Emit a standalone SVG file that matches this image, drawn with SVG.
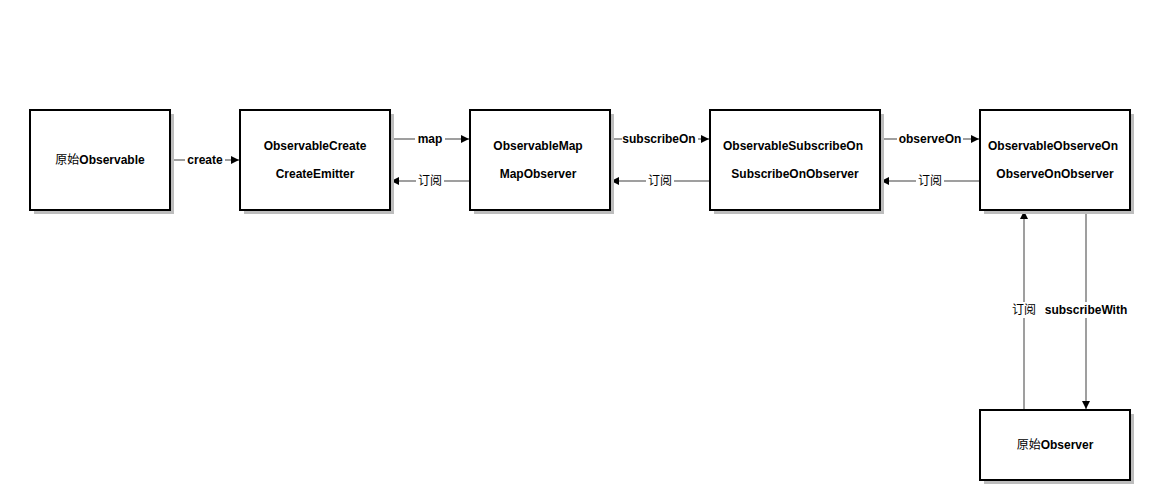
<svg xmlns="http://www.w3.org/2000/svg" width="1150" height="500" viewBox="0 0 1150 500">
<style>
.box{fill:#fff;stroke:#000;stroke-width:2}
.sh{fill:#bdbdbd}
.t{font-family:"Liberation Sans","Noto Sans CJK SC",Arial,sans-serif;font-size:12px;font-weight:bold;fill:#000;text-anchor:middle;dominant-baseline:central}
.l{font-family:"Liberation Sans","Noto Sans CJK SC",Arial,sans-serif;font-size:12px;font-weight:bold;fill:#000;text-anchor:middle;dominant-baseline:central}
.cj{font-weight:normal}
.e{stroke:#7f7f7f;stroke-width:1.5;fill:none;marker-end:url(#ah)}
.bg{fill:#fff}
</style>
<defs>
<marker id="ah" viewBox="0 0 10 10" refX="10" refY="5" markerWidth="8" markerHeight="8" markerUnits="userSpaceOnUse" orient="auto">
<path d="M0,0 L10,5 L0,10 z" fill="#000"/>
</marker>
</defs>
<rect width="1150" height="500" fill="#fff"/>
<g id="connectors">
<line class="e" x1="171" y1="160" x2="239" y2="160"/>
<rect class="bg" x="185" y="152" width="40" height="16"/>
<text class="l" x="205" y="160">create</text>
<line class="e" x1="391" y1="139" x2="469" y2="139"/>
<rect class="bg" x="415" y="131" width="30" height="16"/>
<text class="l" x="430" y="139">map</text>
<line class="e" x1="469" y1="181" x2="391" y2="181"/>
<rect class="bg" x="416" y="173" width="28" height="16"/>
<text class="l cj" x="430" y="181">订阅</text>
<line class="e" x1="611" y1="139" x2="709" y2="139"/>
<rect class="bg" x="622" y="131" width="76" height="16"/>
<text class="l" x="659" y="139">subscribeOn</text>
<line class="e" x1="709" y1="181" x2="611" y2="181"/>
<rect class="bg" x="646" y="173" width="28" height="16"/>
<text class="l cj" x="660" y="181">订阅</text>
<line class="e" x1="881" y1="139" x2="979" y2="139"/>
<rect class="bg" x="897" y="131" width="66" height="16"/>
<text class="l" x="930" y="139">observeOn</text>
<line class="e" x1="979" y1="181" x2="881" y2="181"/>
<rect class="bg" x="916" y="173" width="28" height="16"/>
<text class="l cj" x="930" y="181">订阅</text>
<line class="e" x1="1024" y1="409" x2="1024" y2="211"/>
<rect class="bg" x="1010" y="302" width="28" height="16"/>
<text class="l cj" x="1024" y="310">订阅</text>
<line class="e" x1="1086" y1="211" x2="1086" y2="409"/>
<rect class="bg" x="1044" y="302" width="84" height="16"/>
<text class="l" x="1086" y="310">subscribeWith</text>
</g>
<g id="n1">
<rect class="sh" x="34" y="114" width="140" height="100"/>
<rect class="box" x="30" y="110" width="140" height="100"/>
<text class="t" x="100" y="160"><tspan class="cj">原始</tspan>Observable</text>
</g>
<g id="n2">
<rect class="sh" x="244" y="114" width="150" height="100"/>
<rect class="box" x="240" y="110" width="150" height="100"/>
<text class="t" x="315" y="146">ObservableCreate</text>
<text class="t" x="315" y="174">CreateEmitter</text>
</g>
<g id="n3">
<rect class="sh" x="474" y="114" width="140" height="100"/>
<rect class="box" x="470" y="110" width="140" height="100"/>
<text class="t" x="538" y="146">ObservableMap</text>
<text class="t" x="538" y="174">MapObserver</text>
</g>
<g id="n4">
<rect class="sh" x="714" y="114" width="170" height="100"/>
<rect class="box" x="710" y="110" width="170" height="100"/>
<text class="t" x="793" y="146">ObservableSubscribeOn</text>
<text class="t" x="795" y="174">SubscribeOnObserver</text>
</g>
<g id="n5">
<rect class="sh" x="984" y="114" width="150" height="100"/>
<rect class="box" x="980" y="110" width="150" height="100"/>
<text class="t" x="1053" y="146">ObservableObserveOn</text>
<text class="t" x="1055" y="174">ObserveOnObserver</text>
</g>
<g id="n6">
<rect class="sh" x="984" y="414" width="150" height="70"/>
<rect class="box" x="980" y="410" width="150" height="70"/>
<text class="t" x="1055" y="445"><tspan class="cj">原始</tspan>Observer</text>
</g>
</svg>
